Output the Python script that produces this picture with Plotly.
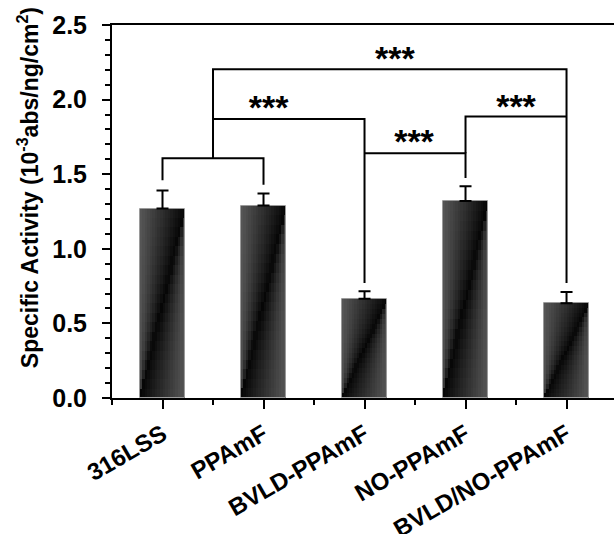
import plotly.graph_objects as go
import numpy as np

categories = ["316LSS", "PPAmF", "BVLD-PPAmF", "NO-PPAmF", "BVLD/NO-PPAmF"]
values = [1.27, 1.29, 0.665, 1.32, 0.635]
errors = [0.12, 0.08, 0.05, 0.10, 0.075]

# significance brackets: (path in category x, path in value y)
bracket_paths = [
    ([0, 0, 1, 1], [1.46, 1.607, 1.607, 1.43]),
    ([0.5, 0.5, 4, 4], [1.607, 2.203, 2.203, 0.77]),
    ([0.5, 2, 2], [1.87, 1.87, 0.77]),
    ([2, 3, 3], [1.64, 1.64, 1.475]),
    ([3, 3, 4], [1.64, 1.886, 1.886]),
]
star_x = [2.3, 1.05, 2.49, 3.5]
star_y = [2.255, 1.925, 1.70, 1.935]
star_text = ["***", "***", "***", "***"]

FONT = "Arial, Liberation Sans, sans-serif"
fig = go.Figure()

xs = np.arange(len(categories))
vals = np.array(values)
bar_w = 0.45
N = 18  # horizontal strips
K = 20  # vertical slices
sw = bar_w / N
EDGE = 88
for k in range(K):
    hfrac = (k + 0.5) / K  # diagonal position at this height
    base = vals * k / K
    height = vals / K * (1.0 if k == K - 1 else 1.04)
    for i in range(N):
        xf = (i + 0.5) / N
        if xf < hfrac:
            t = (hfrac - xf) / hfrac
        else:
            t = (xf - hfrac) / (1 - hfrac)
        g = int(6 + (EDGE - 6) * t)
        fig.add_trace(go.Bar(
            x=xs, y=height, base=base, width=sw * 1.08, offset=-bar_w / 2 + i * sw,
            marker=dict(color=f"rgb({g},{g},{g})", line=dict(width=0)),
            showlegend=False, hoverinfo="skip"))

# outline + error bars
fig.add_trace(go.Bar(
    x=xs, y=values, width=bar_w,
    marker=dict(color="rgba(0,0,0,0)", line=dict(color="#9a9a9a", width=1)),
    error_y=dict(type="data", array=errors, symmetric=False,
                 arrayminus=[0] * len(errors), color="black", thickness=2, width=6),
    showlegend=False))

for px_, py_ in bracket_paths:
    fig.add_trace(go.Scatter(x=px_, y=py_, mode="lines",
                             line=dict(color="black", width=2), showlegend=False,
                             hoverinfo="skip"))

fig.add_trace(go.Scatter(x=star_x, y=star_y, mode="text", text=star_text,
                         textfont=dict(family=FONT, size=34, color="black", weight="bold"),
                         showlegend=False))

fig.update_layout(
    width=614, height=534,
    margin=dict(l=112, r=0, t=25, b=136),
    paper_bgcolor="white", plot_bgcolor="white",
    barmode="overlay", bargap=0,
    font=dict(family=FONT, color="black"),
    annotations=[dict(
        text="Specific Activity (10<sup>-3</sup>abs/ng/cm<sup>2</sup>)",
        xref="paper", yref="paper", x=-0.167, y=0.563,
        xanchor="center", yanchor="middle", textangle=-90, showarrow=False,
        font=dict(size=23, family=FONT, weight="bold", color="black"))],
)
fig.update_xaxes(
    range=[-0.5, 4.47], tickvals=list(xs), ticktext=categories,
    tickangle=-30, tickfont=dict(size=24, family=FONT, weight="bold"),
    ticks="outside", ticklen=9, tickwidth=2, tickcolor="black", ticklabelstandoff=2,
    minor=dict(tickvals=[-0.5, 0.5, 1.5, 2.5, 3.5], ticks="outside", ticklen=5,
               tickwidth=2, tickcolor="black"),
    showline=True, linecolor="black", linewidth=2, mirror=True,
    showgrid=False, zeroline=False, automargin=False,
)
fig.update_yaxes(
    range=[0, 2.5], tickvals=[0, 0.5, 1.0, 1.5, 2.0, 2.5],
    tickformat=".1f", tickfont=dict(size=25, family=FONT, weight="bold"),
    ticks="outside", ticklen=8, tickwidth=2, tickcolor="black", ticklabelstandoff=10,
    minor=dict(dtick=0.1, ticks="outside", ticklen=5, tickwidth=1.5, tickcolor="black"),
    showline=True, linecolor="black", linewidth=2,
    showgrid=False, zeroline=False, automargin=False,
)
fig.write_html("out.html", config={"displayModeBar": False},
               post_script="document.body.style.margin='0px';document.body.style.overflow='hidden';")
